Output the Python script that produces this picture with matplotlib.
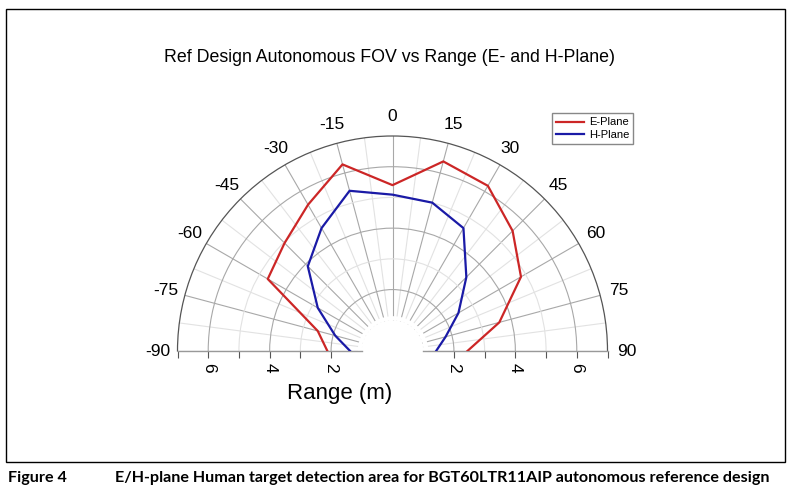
import numpy as np
import matplotlib
matplotlib.use("Agg")
import matplotlib.pyplot as plt
from matplotlib.patches import Rectangle
from matplotlib.lines import Line2D

# --- dati (angolo in gradi, range in m) ---
angles = [-90, -75, -60, -45, -30, -15, 0, 15, 30, 45, 60, 75, 90]
e_plane = [2.12, 2.52, 4.69, 4.97, 5.50, 6.29, 5.40, 6.39, 6.21, 5.53, 4.83, 3.60, 2.44]
h_plane = [1.38, 1.93, 2.81, 3.90, 4.62, 5.40, 5.09, 5.00, 4.62, 3.40, 2.48, 1.79, 1.42]

theta_ticks = list(range(-90, 91, 15))
theta_minor = [a + 7.5 for a in range(-90, 90, 15)]
r_labels = [2, 4, 6]
r_minor = [3, 5]
r_tickmarks = [2, 3, 4, 5, 6, 7]

title = "Ref Design Autonomous FOV vs Range (E- and H-Plane)"
caption_num = "Figure 4"
caption_text = "E/H-plane Human target detection area for BGT60LTR11AIP autonomous reference design"

red = "#cc2626"
blue = "#1a1aa6"
grid_dark = "#a8a8a8"
grid_light = "#e2e2e2"

plt.rcParams["font.family"] = ["Liberation Sans", "DejaVu Sans"]

fig = plt.figure(figsize=(7.93, 5.0), dpi=100)

# cornice esterna
fig.patches.append(Rectangle((6 / 793, 38 / 500), 779 / 793, 453 / 500,
                             transform=fig.transFigure, fill=False,
                             edgecolor="black", linewidth=1.0))

# centro (392.5, 351) px, raggio esterno 215 px -> box quadrato 430x430
ax = fig.add_axes([177.5 / 793, 41.5 / 500, 430 / 793, 430 / 500], projection="polar")
ax.set_theta_zero_location("N")
ax.set_theta_direction(-1)
ax.set_thetamin(-90)
ax.set_thetamax(90)
ax.set_rlim(1, 7)
ax.set_rorigin(0)

th = np.deg2rad(angles)
ax.plot(th, e_plane, color=red, lw=1.6, zorder=5)
ax.plot(th, h_plane, color=blue, lw=1.6, zorder=5)

# griglia
ax.set_xticks(np.deg2rad(theta_ticks))
ax.set_xticks(np.deg2rad(theta_minor), minor=True)
ax.set_xticklabels([])
ax.set_yticks(r_labels)
ax.set_yticks(r_minor, minor=True)
ax.set_yticklabels([])
ax.grid(which="major", color=grid_dark, lw=0.8)
ax.grid(which="minor", color=grid_light, lw=0.8)
ax.tick_params(axis="x", which="major", direction="out", length=5, color="#555555", width=0.8)
ax.tick_params(axis="x", which="minor", direction="in", length=5, color="#555555", width=0.8)
ax.tick_params(axis="y", which="both", length=0)

# i raggi della griglia si fermano poco prima del foro centrale
tt = np.linspace(-np.pi / 2, np.pi / 2, 200)
ax.fill_between(tt, 1, 1.15, color="white", zorder=2, lw=0)

ax.spines["polar"].set_color("#555555")
ax.spines["polar"].set_linewidth(0.9)
ax.spines["inner"].set_color("none")
ax.spines["inner"].set_linewidth(0)
for s in ("start", "end"):
    ax.spines[s].set_color("#999999")
    ax.spines[s].set_linewidth(1.0)

# etichette angolari
for a in theta_ticks:
    ax.text(np.deg2rad(a), 7.63, str(a), ha="center", va="center", fontsize=12.5,
            clip_on=False)

# tacche e etichette del range su entrambi i lati
for side in (-90, 90):
    t = np.deg2rad(side)
    ax.plot([t] * len(r_tickmarks), r_tickmarks, ls="none", marker=3, ms=5,
            mew=0.8, color="#555555", clip_on=False)
    for r in r_labels:
        ax.annotate(str(r), xy=(t, r), xytext=(0, -12), textcoords="offset points",
                    ha="center", va="center", rotation=-90, fontsize=12.5,
                    annotation_clip=False)

fig.text(340 / 793, 1 - 394 / 500, "Range (m)", ha="center", va="center", fontsize=16)
fig.text(390 / 793, 1 - 57 / 500, title, ha="center", va="center", fontsize=12.8)

handles = [Line2D([], [], color=red, lw=1.6), Line2D([], [], color=blue, lw=1.6)]
fig.legend(handles, ["E-Plane", "H-Plane"], loc="upper left",
           bbox_to_anchor=(552 / 793, 1 - 113 / 500), fontsize=8,
           frameon=True, fancybox=False, edgecolor="#888888", framealpha=1,
           handlelength=2.5, borderpad=0.4, labelspacing=0.2, handletextpad=0.4,
           borderaxespad=0)

cap_font = dict(fontsize=11.65, fontweight="bold", family=["Lato", "DejaVu Sans"])
fig.text(8 / 793, 1 - 478 / 500, caption_num, ha="left", va="center", **cap_font)
fig.text(115 / 793, 1 - 478 / 500, caption_text, ha="left", va="center", **cap_font)

fig.savefig("out.png", dpi=100)
